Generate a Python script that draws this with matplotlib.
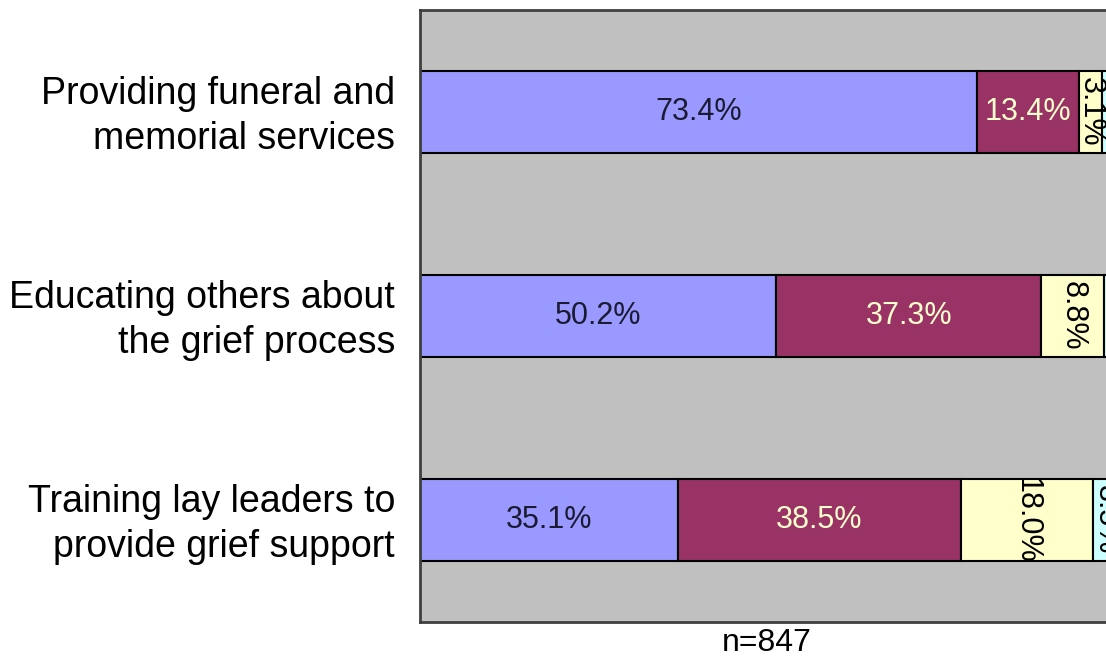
import matplotlib
matplotlib.use("Agg")
import matplotlib.pyplot as plt
import matplotlib.transforms as mtransforms
import numpy as np

categories = ["Providing funeral and\nmemorial services",
              "Educating others about\nthe grief process",
              "Training lay leaders to\nprovide grief support"]
# percentages per response category (last two columns lie mostly off the visible area)
s1 = [73.4, 50.2, 35.1]
s2 = [13.4, 37.3, 38.5]
s3 = [3.1, 8.8, 18.0]
s4 = [5.0, 5.6, 3.5]
s5 = [5.1, 5.0, 8.2]
series = [s1, s2, s3, s4, s5]
colors = ["#9999FF", "#993366", "#FFFFCC", "#CCFFFF", "#660066"]
text_colors = ["#1a1a33", "#FFFFCC", "#000000", "#000000", "#FFFFFF"]
rotations = [0, 0, -90, -90, -90]
n_label = "n=847"

plt.rcParams['font.family'] = ['Liberation Sans', 'DejaVu Sans']

fig = plt.figure(figsize=(11.06, 6.57), dpi=100)
W, H = 1106, 657
ax = fig.add_axes([420 / W, (H - 622) / H, (1179 - 420) / W, 612 / H])
ax.set_facecolor("#C0C0C0")

data = np.array(series)
totals = data.sum(axis=0)
y = np.arange(len(categories))
left = np.zeros(len(categories))
for k, vals in enumerate(series):
    vals = np.array(vals)
    widths = vals / totals * 100
    ax.barh(y, widths, left=left, height=0.405, color=colors[k],
            edgecolor="black", linewidth=1.5, zorder=2)
    for i in range(len(categories)):
        cx = left[i] + widths[i] / 2
        ax.text(cx, y[i], f"{vals[i]:.1f}%", ha="center", va="center",
                rotation=rotations[k], fontsize=22, color=text_colors[k],
                zorder=3, clip_on=True)
    left += widths

ax.set_xlim(0, 100)
ax.set_ylim(len(categories) - 0.5, -0.5)
ax.set_yticks(y)
ax.set_yticklabels(categories, fontsize=27, linespacing=1.32)
ax.tick_params(axis="y", length=0, pad=18)
ax.set_xticks([])
offset = mtransforms.ScaledTranslation(0, 4 / 100, fig.dpi_scale_trans)
for lbl in ax.get_yticklabels():
    lbl.set_transform(lbl.get_transform() + offset)
for sp in ax.spines.values():
    sp.set_color("#404040")
    sp.set_linewidth(2)

fig.text(767 / W, 1 - 643 / H, n_label, ha="center", va="center", fontsize=23)

fig.savefig("out.png", dpi=100)
